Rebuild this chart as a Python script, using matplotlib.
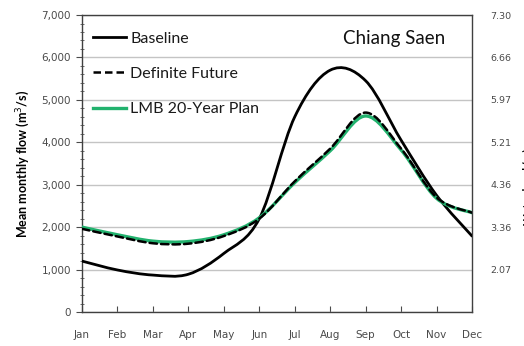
import matplotlib
matplotlib.use("Agg")
import matplotlib.pyplot as plt
from matplotlib.path import Path
from matplotlib.patches import PathPatch
from matplotlib.lines import Line2D
from matplotlib.ticker import MultipleLocator, FuncFormatter

plt.rcParams['font.family'] = ['Lato', 'DejaVu Sans']

months = ["Jan", "Feb", "Mar", "Apr", "May", "Jun",
          "Jul", "Aug", "Sep", "Oct", "Nov", "Dec"]
baseline = [1200, 990, 870, 890, 1380, 2200, 4600, 5700, 5450, 4050, 2750, 1790]
definite_future = [1960, 1780, 1620, 1610, 1790, 2200, 3080, 3850, 4700, 3850, 2700, 2340]
lmb_plan = [2000, 1820, 1670, 1660, 1820, 2220, 3050, 3800, 4620, 3820, 2680, 2340]
level_ticks = [1000, 2000, 3000, 4000, 5000, 6000, 7000]
level_labels = ["2.07", "3.36", "4.36", "5.21", "5.97", "6.66", "7.30"]


def smooth_path(xs, ys):
    """Cubic Bezier path through the points (Catmull-Rom style control points)."""
    pts = list(zip(xs, ys))
    n = len(pts)
    verts = [pts[0]]
    codes = [Path.MOVETO]
    for i in range(n - 1):
        p0 = pts[i - 1] if i > 0 else pts[i]
        p1 = pts[i]
        p2 = pts[i + 1]
        p3 = pts[i + 2] if i + 2 < n else pts[i + 1]
        c1 = (p1[0] + (p2[0] - p0[0]) / 6, p1[1] + (p2[1] - p0[1]) / 6)
        c2 = (p2[0] - (p3[0] - p1[0]) / 6, p2[1] - (p3[1] - p1[1]) / 6)
        verts += [c1, c2, p2]
        codes += [Path.CURVE4] * 3
    return Path(verts, codes)


fig = plt.figure(figsize=(5.24, 3.46), dpi=100)
ax = fig.add_axes([0.1565, 0.0983, 0.7443, 0.8583])
x = list(range(len(months)))

green = "#22b26e"
series = [
    (baseline, dict(color="black", lw=2.0, ls="-"), "Baseline", 3),
    (definite_future, dict(color="black", lw=1.8, ls=(0, (3, 1.6))), "Definite Future", 4),
    (lmb_plan, dict(color=green, lw=2.4, ls="-"), "LMB 20-Year Plan", 3.5),
]
handles = []
for ys, style, label, z in series:
    patch = PathPatch(smooth_path(x, ys), facecolor="none", edgecolor=style["color"],
                      lw=style["lw"], ls=style["ls"], zorder=z, capstyle="round")
    ax.add_patch(patch)
    handles.append(Line2D([], [], **style, label=label))

ax.set_xlim(0, 11)
ax.set_ylim(0, 7000)
ax.set_xticks(x)
ax.set_xticklabels(months)
ax.yaxis.set_major_locator(MultipleLocator(1000))
ax.yaxis.set_minor_locator(MultipleLocator(200))
ax.yaxis.set_major_formatter(FuncFormatter(lambda v, p: f"{int(v):,}"))
ax.grid(axis="y", color="#c4c4c4", lw=1.0)
ax.set_axisbelow(True)

for s in ax.spines.values():
    s.set_color("#404040")
    s.set_linewidth(1.0)

tick_color = "#4a4a4a"
tick_font = "DejaVu Sans"
ax.tick_params(axis="x", direction="in", length=4, labelsize=7.5, colors=tick_color, pad=13)
ax.tick_params(axis="y", which="major", direction="out", length=4, labelsize=7.5,
               colors=tick_color, pad=4)
ax.tick_params(axis="y", which="minor", direction="inout", length=3, color="#555555")
for lbl in ax.get_xticklabels() + ax.get_yticklabels():
    lbl.set_fontfamily(tick_font)

ax.set_ylabel("Mean monthly flow (m$^3$/s)", fontsize=9, fontweight="bold",
              labelpad=7)

ax2 = ax.twinx()
ax2.set_ylim(ax.get_ylim())
ax2.set_yticks(level_ticks)
ax2.set_yticklabels(level_labels)
ax2.tick_params(axis="y", length=0, labelsize=6.8, colors=tick_color, pad=13)
for lbl in ax2.get_yticklabels():
    lbl.set_fontfamily(tick_font)
for s in ax2.spines.values():
    s.set_visible(False)
fig.text(0.9965, 0.46, "Water level (m)", rotation=90, fontsize=8, fontweight="bold",
         ha="left", va="center")

ax.text(0.931, 0.9226, "Chiang Saen", transform=ax.transAxes, fontsize=13.5,
        ha="right", va="center", color="#111111")

leg = ax.legend(handles=handles, loc="upper left", bbox_to_anchor=(0.028, 0.945),
                frameon=False, fontsize=11.5, handlelength=2.1, handletextpad=0.25,
                labelspacing=1.33, borderaxespad=0, borderpad=0)
for t in leg.get_texts():
    t.set_color("#1a1a1a")

fig.savefig("out.png", dpi=100, facecolor="white")
